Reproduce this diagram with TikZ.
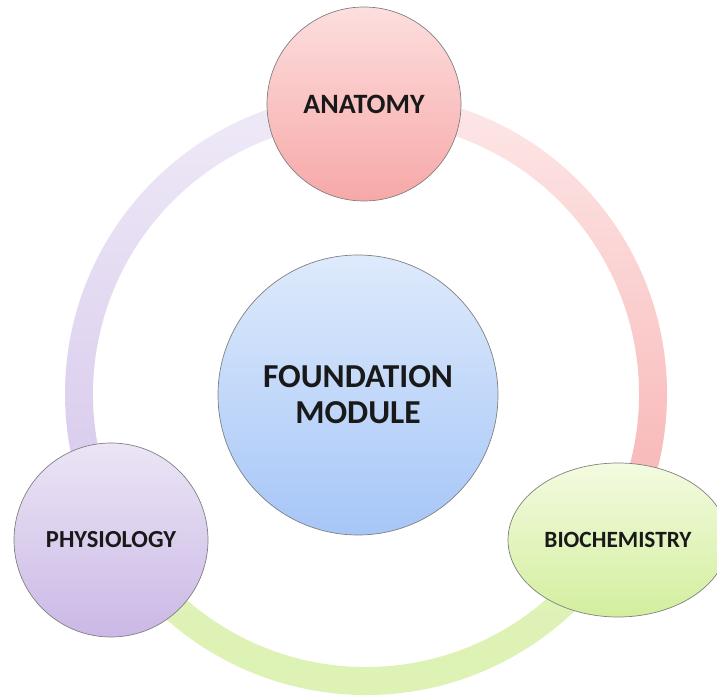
\documentclass[tikz,border=0pt]{standalone}
\usepackage{fontspec}
\setmainfont{Carlito}
\usepackage{tikz}
\usetikzlibrary{shapes.geometric}

\definecolor{anaTop}{HTML}{FDDEDE}
\definecolor{anaBot}{HTML}{F7A8A8}
\definecolor{phyTop}{HTML}{EBE5F5}
\definecolor{phyBot}{HTML}{CBB8E6}
\definecolor{bioTop}{HTML}{F3FBE0}
\definecolor{bioBot}{HTML}{D3EE9E}
\definecolor{fndTop}{HTML}{DEEAFC}
\definecolor{fndBot}{HTML}{A6C6F7}
\definecolor{rimLine}{HTML}{808080}

\tikzset{
  topic/.style={circle, draw=rimLine, line width=0.7pt, inner sep=0pt,
    minimum size=194, font=\bfseries\fontsize{28}{30}\selectfont, text=black!90},
  core/.style={circle, draw=rimLine, line width=0.7pt, inner sep=0pt,
    minimum size=280, align=center, font=\bfseries\fontsize{33.5}{36}\selectfont, text=black!90},
}

\begin{document}
\begin{tikzpicture}[x=1pt,y=1pt]
    \useasboundingbox (0,0) rectangle (717,696);
    \clip (0,0) rectangle (717,696);
    \coordinate (ring) at (366,302);
    % ring segments, outer radius 301, inner radius 273
    \shade[top color=anaTop!70!white, bottom color=anaBot!90!white]
      ([shift={(ring)}]90:301) arc[start angle=90, end angle=-30, radius=301]
      -- ([shift={(ring)}]-30:273) arc[start angle=-30, end angle=90, radius=273] -- cycle;
    \shade[top color=phyTop!80!white, bottom color=phyBot!80!white]
      ([shift={(ring)}]90:301) arc[start angle=90, end angle=210, radius=301]
      -- ([shift={(ring)}]210:273) arc[start angle=210, end angle=90, radius=273] -- cycle;
    \shade[top color=bioBot!70!white, bottom color=bioBot!80!white]
      ([shift={(ring)}]210:301) arc[start angle=210, end angle=330, radius=301]
      -- ([shift={(ring)}]330:273) arc[start angle=330, end angle=210, radius=273] -- cycle;

    \node[core, top color=fndTop, bottom color=fndBot] (found) at (358,301) {FOUNDATION\\MODULE};
    \node[topic, top color=anaTop, bottom color=anaBot] (anatomy) at (364,592) {ANATOMY};
    \node[topic, top color=phyTop, bottom color=phyBot, font=\bfseries\fontsize{24.5}{26}\selectfont]
      (physio) at (111,156) {PHYSIOLOGY};
    \node[topic, ellipse, minimum width=220, minimum height=154, top color=bioTop, bottom color=bioBot,
      font=\bfseries\fontsize{23.3}{25}\selectfont] (biochem) at (618,156) {BIOCHEMISTRY};
  \end{tikzpicture}
\end{document}
